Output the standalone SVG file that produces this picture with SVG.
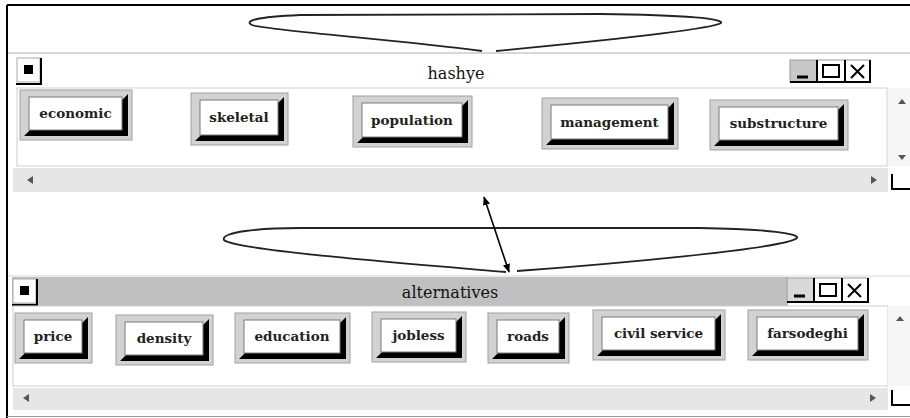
<svg xmlns="http://www.w3.org/2000/svg" width="910" height="418" viewBox="0 0 910 418">
<defs>
<style>
.bo{fill:#d2d2d2;stroke:#a0a0a0;stroke-width:1}
.bs{fill:#000}
.bi{fill:#fff;stroke:#7a7a7a;stroke-width:1}
.bt{font-family:"DejaVu Serif","Liberation Serif",serif;font-size:13.5px;font-weight:bold;fill:#222;text-anchor:middle}
.tt{font-family:"DejaVu Serif","Liberation Serif",serif;font-size:16px;fill:#111;text-anchor:middle}
.lens{fill:none;stroke:#222;stroke-width:1.8}
.ctl{fill:#fff;stroke:#9a9a9a;stroke-width:1}
.sh{fill:none;stroke:#000;stroke-width:2}
.sb{fill:#e6e6e6}
.ar{fill:#555}
</style>
<marker id="ah" viewBox="0 0 10 10" refX="9" refY="5" markerWidth="9" markerHeight="9" orient="auto-start-reverse" markerUnits="userSpaceOnUse">
<path d="M0,1 L10,5 L0,9 Z" fill="#000"/>
</marker>
</defs>
<rect x="0" y="0" width="910" height="418" fill="#fff"/>
<!-- outer frame -->
<line x1="7" y1="5" x2="910" y2="5" stroke="#000" stroke-width="2"/>
<line x1="7" y1="5" x2="7" y2="418" stroke="#000" stroke-width="2"/>
<line x1="7" y1="416.5" x2="910" y2="416.5" stroke="#999" stroke-width="1"/>

<!-- top window chrome -->
<g id="window-hashye">
<line x1="8" y1="53" x2="910" y2="53" stroke="#d8d8d8" stroke-width="2"/>
<rect x="17" y="58" width="23" height="24" fill="#fff" stroke="#aaa"/>
<polyline points="16,84 41,84 41,58" class="sh"/>
<rect x="24" y="65" width="9" height="9" fill="#000"/>
<text x="456" y="79" class="tt">hashye</text>
<rect x="790" y="60" width="27" height="22" fill="#c8c8c8" stroke="#9a9a9a"/>
<rect x="817" y="60" width="28" height="22" class="ctl"/>
<rect x="845" y="60" width="25" height="22" class="ctl"/>
<polyline points="790,82 870,82 870,60" class="sh"/>
<line x1="817" y1="60" x2="817" y2="82" stroke="#000" stroke-width="2"/>
<line x1="845" y1="60" x2="845" y2="82" stroke="#000" stroke-width="2"/>
<line x1="797" y1="77" x2="808" y2="77" stroke="#000" stroke-width="3"/>
<rect x="823" y="65" width="16" height="12" fill="none" stroke="#000" stroke-width="2"/>
<path d="M851,65 L864,78 M864,65 L851,78" stroke="#000" stroke-width="2"/>
<rect x="17" y="88" width="870" height="78" fill="#fff" stroke="#d0d0d0"/>
<rect x="888" y="88" width="22" height="78" fill="#f6f6f6"/>
<path d="M898,104 L902,99 L906,104 Z" class="ar"/>
<path d="M898,155 L902,160 L906,155 Z" class="ar"/>
<rect x="13" y="168" width="875" height="24" class="sb"/>
<path d="M33,176 L27,180 L33,184 Z" class="ar"/>
<path d="M871,176 L877,180 L871,184 Z" class="ar"/>
<rect x="890" y="172" width="20" height="18" fill="#fff"/>
<polyline points="892,174 892,189 910,189" class="sh"/>
</g>

<!-- bottom window chrome -->
<g id="window-alternatives">
<rect x="12" y="277" width="776" height="29" fill="#c0c0c0"/>
<line x1="8" y1="276" x2="910" y2="276" stroke="#d8d8d8" stroke-width="1"/>
<rect x="13" y="279" width="23" height="24" fill="#fff" stroke="#aaa"/>
<polyline points="12,305 37,305 37,279" class="sh"/>
<rect x="20" y="286" width="9" height="9" fill="#000"/>
<text x="450" y="298" class="tt">alternatives</text>
<rect x="787" y="278" width="27" height="24" fill="#d8d8d8" stroke="#9a9a9a"/>
<rect x="814" y="278" width="28" height="24" class="ctl"/>
<rect x="842" y="278" width="26" height="24" class="ctl"/>
<polyline points="787,302 868,302 868,278" class="sh"/>
<line x1="814" y1="278" x2="814" y2="302" stroke="#000" stroke-width="2"/>
<line x1="842" y1="278" x2="842" y2="302" stroke="#000" stroke-width="2"/>
<line x1="794" y1="296" x2="805" y2="296" stroke="#000" stroke-width="3"/>
<rect x="820" y="284" width="16" height="12" fill="none" stroke="#000" stroke-width="2"/>
<path d="M848,284 L861,297 M861,284 L848,297" stroke="#000" stroke-width="2"/>
<rect x="13" y="306" width="875" height="80" fill="#fff" stroke="#d0d0d0"/>
<rect x="888" y="306" width="22" height="80" fill="#f6f6f6"/>
<path d="M896,321 L900,316 L904,321 Z" class="ar"/>
<rect x="13" y="388" width="875" height="22" class="sb"/>
<path d="M29,394 L23,398 L29,402 Z" class="ar"/>
<path d="M870,394 L876,398 L870,402 Z" class="ar"/>
<rect x="890" y="388" width="20" height="18" fill="#fff"/>
<polyline points="892,390 892,405 910,405" class="sh"/>
</g>

<!-- top nodes -->
<g id="economic">
<rect x="20" y="90" width="112" height="50" class="bo"/>
<polygon points="128,94 128,136 24,136 30,130 122,130 122,100" class="bs"/>
<rect x="29" y="97" width="93" height="33" class="bi"/>
<text x="75.5" y="118" class="bt">economic</text>
</g>
<g id="skeletal">
<rect x="191" y="93" width="97" height="52" class="bo"/>
<polygon points="284,97 284,141 195,141 201,135 278,135 278,103" class="bs"/>
<rect x="200" y="100" width="78" height="35" class="bi"/>
<text x="239" y="122" class="bt">skeletal</text>
</g>
<g id="population">
<rect x="353" y="96" width="119" height="51" class="bo"/>
<polygon points="468,100 468,143 357,143 363,137 462,137 462,106" class="bs"/>
<rect x="362" y="103" width="100" height="34" class="bi"/>
<text x="412" y="125" class="bt">population</text>
</g>
<g id="management">
<rect x="542" y="98" width="136" height="51" class="bo"/>
<polygon points="674,102 674,145 546,145 552,139 668,139 668,108" class="bs"/>
<rect x="551" y="105" width="117" height="34" class="bi"/>
<text x="609.5" y="127" class="bt">management</text>
</g>
<g id="substructure">
<rect x="710" y="100" width="138" height="50" class="bo"/>
<polygon points="844,104 844,146 714,146 720,140 838,140 838,110" class="bs"/>
<rect x="719" y="107" width="119" height="33" class="bi"/>
<text x="778.5" y="128" class="bt">substructure</text>
</g>

<!-- bottom nodes -->
<g id="price">
<rect x="15" y="313" width="77" height="50" class="bo"/>
<polygon points="88,317 88,359 19,359 25,353 82,353 82,323" class="bs"/>
<rect x="24" y="320" width="58" height="33" class="bi"/>
<text x="53" y="341" class="bt">price</text>
</g>
<g id="density">
<rect x="116" y="315" width="97" height="50" class="bo"/>
<polygon points="209,319 209,361 120,361 126,355 203,355 203,325" class="bs"/>
<rect x="125" y="322" width="78" height="33" class="bi"/>
<text x="164" y="343" class="bt">density</text>
</g>
<g id="education">
<rect x="235" y="313" width="115" height="50" class="bo"/>
<polygon points="346,317 346,359 239,359 245,353 340,353 340,323" class="bs"/>
<rect x="244" y="320" width="96" height="33" class="bi"/>
<text x="292" y="341" class="bt">education</text>
</g>
<g id="jobless">
<rect x="372" y="312" width="94" height="50" class="bo"/>
<polygon points="462,316 462,358 376,358 382,352 456,352 456,322" class="bs"/>
<rect x="381" y="319" width="75" height="33" class="bi"/>
<text x="418.5" y="340" class="bt">jobless</text>
</g>
<g id="roads">
<rect x="488" y="313" width="81" height="50" class="bo"/>
<polygon points="565,317 565,359 492,359 498,353 559,353 559,323" class="bs"/>
<rect x="497" y="320" width="62" height="33" class="bi"/>
<text x="528" y="341" class="bt">roads</text>
</g>
<g id="civil-service">
<rect x="593" y="310" width="132" height="50" class="bo"/>
<polygon points="721,314 721,356 597,356 603,350 715,350 715,320" class="bs"/>
<rect x="602" y="317" width="113" height="33" class="bi"/>
<text x="658.5" y="338" class="bt">civil service</text>
</g>
<g id="farsodeghi">
<rect x="748" y="310" width="120" height="50" class="bo"/>
<polygon points="864,314 864,356 752,356 758,350 858,350 858,320" class="bs"/>
<rect x="757" y="317" width="101" height="33" class="bi"/>
<text x="807.5" y="338" class="bt">farsodeghi</text>
</g>

<!-- connectors -->
<g id="connectors">
<path class="lens" d="M482,51 C400,40 265,30 252,25 C244,21 255,17 300,15 L600,14 C690,15 724,19 721,23 C712,29 590,42 496,51"/>
<path class="lens" d="M506,272 C400,263 235,250 224,240 C220,232 260,228 300,228 L700,228 C770,229 800,234 797,238 C785,249 600,265 517,271"/>
<line x1="484" y1="197" x2="509" y2="272" stroke="#000" stroke-width="1.6" marker-start="url(#ah)" marker-end="url(#ah)"/>
</g>
</svg>
